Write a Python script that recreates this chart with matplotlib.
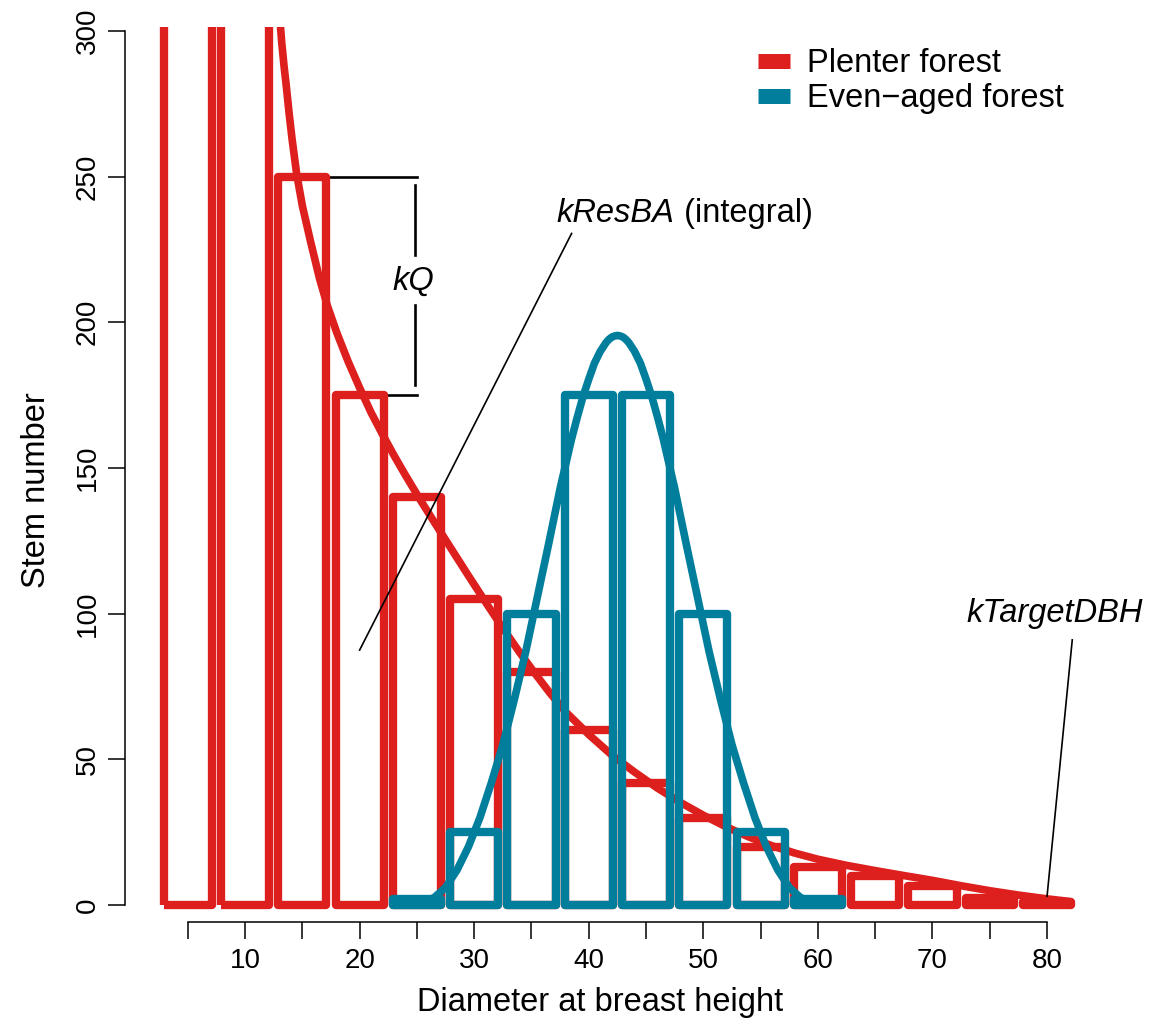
import matplotlib
matplotlib.use("Agg")
import matplotlib.pyplot as plt
from matplotlib.lines import Line2D

plt.rcParams['font.family'] = ['Liberation Sans', 'DejaVu Sans']

# Colours
RED = '#DD1F1E'
TEAL = '#007E9C'

# Plenter forest: stem numbers per 5 cm diameter class
plenter_dbh = [5, 10, 15, 20, 25, 30, 35, 40, 45, 50, 55, 60, 65, 70, 75, 80]
plenter_n = [500, 350, 250, 175, 140, 105, 80, 60, 42, 30, 20, 13, 10, 6.5, 2.5, 1]

# Even-aged forest
even_dbh = [25, 30, 35, 40, 45, 50, 55, 60]
even_n = [2, 25, 100, 175, 175, 100, 25, 2]

# Target curve of the plenter forest
plenter_curve_x = [13.0, 13.2, 13.4, 13.6, 13.85, 14.1, 14.5, 15.0, 15.7, 16.5, 17.2, 18.0,
                   19.0, 20.0, 21.0, 22.0, 23.0, 24.0, 25.3, 26.5, 28.2, 29.5, 31.1, 32.5,
                   34.0, 35.3, 36.6, 38.0, 40.0, 42.0, 44.0, 46.0, 48.0, 50.0, 52.0, 54.0,
                   56.0, 58.0, 60.0, 62.5, 65.0, 67.5, 70.0, 72.5, 75.0, 77.5, 80.0, 82.0]
plenter_curve_y = [306, 296, 288, 281, 271.5, 263, 251, 240, 228, 215, 205.5, 196.5,
                   186.5, 177.5, 169, 161.5, 154.3, 147.5, 139, 131.5, 121, 113, 103.3, 95,
                   86.5, 79.5, 72.8, 66.2, 58.5, 51.5, 45.6, 40.1, 35.2, 30.8, 26.8, 23.3,
                   20.3, 17.8, 15.7, 13.6, 11.8, 10.1, 8.45, 6.6, 4.9, 3.4, 2.1, 1.2]

# Fitted curve of the even-aged forest
even_curve_x = [24.5, 25.5, 26.5, 27.5, 28.5, 29.5, 30.5, 31.5, 32.5, 33.5, 34.5, 35.5,
                36.5, 37.5, 38.5, 39.0, 39.5, 40.0, 40.5, 41.0, 41.5, 41.75, 42.0, 42.25,
                42.5, 42.75, 43.0, 43.25, 43.5, 44.0, 44.5, 45.0, 45.5, 46.0, 46.5, 47.5,
                48.5, 49.5, 50.5, 51.5, 52.5, 53.5, 54.5, 55.5, 56.5, 57.5, 58.5, 59.5, 60.5]
even_curve_y = [0.3, 1, 2.5, 6, 12, 20, 30, 42, 55, 70.5, 87, 105.5,
                124, 143, 160, 167.5, 174.5, 180.5, 186, 190, 193, 194.1, 194.9, 195.3,
                195.5, 195.3, 194.9, 194.1, 193, 190, 186, 180.5, 174.5, 167.5, 160, 143,
                124, 105.5, 87, 70.5, 55, 42, 30, 20, 12, 6, 2.5, 1, 0.3]

BAR_WIDTH = 4.2

fig = plt.figure(figsize=(11.73, 10.25), dpi=100)
ax = fig.add_axes([125 / 1173, 103 / 1025, 950.7 / 1173, 895.4 / 1025])

ax.bar(plenter_dbh, plenter_n, width=BAR_WIDTH, fill=False, edgecolor=RED,
       linewidth=6.0, joinstyle='round', zorder=2)
ax.plot(plenter_curve_x, plenter_curve_y, color=RED, lw=5.5,
        solid_capstyle='round', solid_joinstyle='round', zorder=3)
ax.bar(even_dbh, even_n, width=BAR_WIDTH, fill=False, edgecolor=TEAL,
       linewidth=6.0, joinstyle='round', zorder=4)
ax.plot(even_curve_x, even_curve_y, color=TEAL, lw=5.5,
        solid_capstyle='round', solid_joinstyle='round', zorder=5)

# kQ bracket
ax.plot([17.1, 25.0], [250, 250], color='black', lw=1.9, zorder=1.5)
ax.plot([22.1, 25.0], [175, 175], color='black', lw=1.9, zorder=1.5)
ax.plot([24.85, 24.85], [247, 223], color='black', lw=1.9, zorder=6)
ax.plot([24.85, 24.85], [206, 178.5], color='black', lw=1.9, zorder=6)
ax.text(24.7, 214, 'kQ', style='italic', fontsize=23.5, ha='center', va='center', zorder=7)

# kResBA pointer
ax.plot([38.5, 20.0], [230.5, 87.5], color='black', lw=1.2, zorder=6)
t1 = ax.text(37.2, 234.6, 'kResBA', style='italic', fontsize=23.5,
             ha='left', va='baseline', zorder=7)
ax.annotate(' (integral)', xy=(1, 0), xycoords=t1, ha='left', va='bottom',
            fontsize=23.5, zorder=7)

# kTargetDBH pointer
ax.plot([82.2, 80.0], [91, 3], color='black', lw=1.2, zorder=6)
ax.text(80.7, 100.2, 'kTargetDBH', style='italic', fontsize=23.5,
        ha='center', va='center', zorder=7, clip_on=False)

ax.set_xlim(-0.48, 82.5)
ax.set_ylim(-5.84, 301.5)

for side in ['top', 'right']:
    ax.spines[side].set_visible(False)
ax.spines['left'].set_bounds(0, 300)
ax.spines['bottom'].set_bounds(5, 80)
for side in ['left', 'bottom']:
    ax.spines[side].set_linewidth(1.1)

xticks = list(range(5, 85, 5))
ax.set_xticks(xticks)
ax.set_xticklabels([str(t) if t % 10 == 0 else '' for t in xticks])
yticks = list(range(0, 350, 50))
ax.set_yticks(yticks)
ax.set_yticklabels([str(t) for t in yticks], rotation=90, va='center')
ax.tick_params(axis='both', length=12.2, width=1.1, labelsize=20)
ax.tick_params(axis='x', pad=6.5)
ax.tick_params(axis='y', pad=5)

ax.set_xlabel('Diameter at breast height', fontsize=23.5)
ax.xaxis.set_label_coords(0.5, -0.0723)
ax.set_ylabel('Stem number', fontsize=23.5)
ax.yaxis.set_label_coords(-0.0768, 0.482)

handles = [Line2D([0], [0], color=RED, lw=10.8, solid_capstyle='butt'),
           Line2D([0], [0], color=TEAL, lw=10.8, solid_capstyle='butt')]
ax.legend(handles, ['Plenter forest', 'Even\u2212aged forest'], loc='upper left',
          bbox_to_anchor=(758 / 1173, 1 - 48 / 1025), bbox_transform=fig.transFigure,
          frameon=False, fontsize=23.5, handlelength=0.98, handletextpad=0.51,
          labelspacing=0.13, borderpad=0, borderaxespad=0)

fig.savefig('out.png', dpi=100)
